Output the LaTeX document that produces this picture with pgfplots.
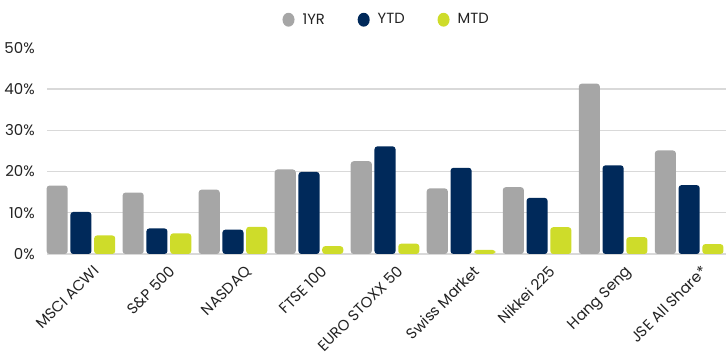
\documentclass[border=0pt]{standalone}
\usepackage{pgfplots}
\pgfplotsset{compat=1.18}
\usepackage{fontspec}
\setmainfont{Poppins}
\definecolor{cgrey}{HTML}{A6A6A6}
\definecolor{cnavy}{HTML}{00295A}
\definecolor{clime}{HTML}{CEDC2A}
\definecolor{cgrid}{HTML}{D9D9D9}
\definecolor{ctext}{HTML}{222222}
\begin{document}
\begin{tikzpicture}
\begin{axis}[
  scale only axis,
  width=507pt, height=154pt,
  ybar, bar width=15.75pt,
  xmin=-0.44, xmax=8.49,
  ymin=0, ymax=50,
  axis line style={draw=none},
  major tick length=0pt,
  font=\fontsize{11.2}{13}\selectfont,
  every tick label/.append style={text=ctext},
  /pgf/number format/assume math mode=true,
  xtick=data,
  xticklabels={MSCI ACWI, S\&P 500, NASDAQ, FTSE 100, EURO STOXX 50, Swiss Market, Nikkei 225, Hang Seng, JSE All Share*},
  xticklabel style={rotate=45, anchor=north east, inner sep=1.5pt, xshift=2pt, yshift=-10pt},
  ytick={0,10,20,30,40,50},
  yticklabel={\pgfmathprintnumber{\tick}\%},
  yticklabel style={anchor=east, xshift=-6pt},
  extra y ticks={0,10,20,30,40},
  extra y tick labels={},
  extra y tick style={ymajorgrids=true, major grid style={cgrid, line width=0.9pt}},
  clip=false,
  legend columns=-1,
  legend style={draw=none, fill=none, at={(0.5,1.136)}, anchor=center,
    inner ysep=8pt,
    font=\fontsize{11}{13}\selectfont, text=ctext,
    /tikz/every odd column/.append style={column sep=4pt},
    /tikz/every even column/.append style={column sep=22.5pt}},
  legend image code/.code={\fill[#1] (0cm,0cm) ellipse (4.5pt and 5.2pt);},
  every axis plot/.append style={rounded corners=2.2pt, draw=none},
]
\addplot[fill=cgrey] coordinates {(0,16.6) (1,14.9) (2,15.6) (3,20.5) (4,22.5) (5,15.9) (6,16.2) (7,41.3) (8,25.1)};
\addplot[fill=cnavy] coordinates {(0,10.2) (1,6.2) (2,5.9) (3,19.9) (4,26.1) (5,20.9) (6,13.6) (7,21.5) (8,16.7)};
\addplot[fill=clime] coordinates {(0,4.5) (1,5.0) (2,6.6) (3,1.9) (4,2.5) (5,1.0) (6,6.5) (7,4.1) (8,2.4)};
\legend{1YR, YTD, MTD}
\end{axis}
\end{tikzpicture}
\end{document}
